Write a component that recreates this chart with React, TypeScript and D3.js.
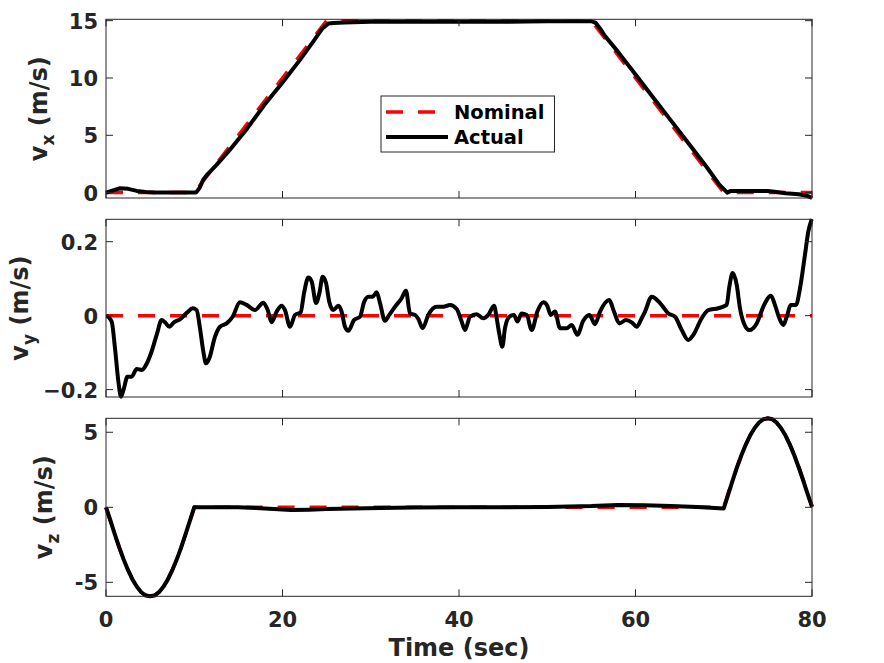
import React from 'react';
import * as d3 from 'd3';

const W = 884;
const H = 663;
const FONT = "'DejaVu Sans', 'Liberation Sans', sans-serif";
const AXIS = '#262626';

// shared time axis
const timeTicks = [0, 20, 40, 60, 80];

// v_x (m/s)
const vxNomT = [0, 10, 25, 55, 70, 80];
const vxNom = [0, 0, 15, 15, 0, 0];
const vxActT = [0, 0.8, 1.6, 2.5, 3.5, 4.5, 5.5, 10.2, 10.6, 11.0, 11.5, 12.5, 14, 16, 18, 20, 22, 23.5, 24.5, 25.2, 25.8, 27, 30, 35, 40, 45, 50, 55, 55.5, 56, 56.5, 58, 60, 62, 64, 66, 68, 69.5, 70.4, 70.8, 72, 75, 76, 77, 78.5, 79.5, 80];
const vxAct = [0, 0.2, 0.38, 0.33, 0.15, 0.05, 0, 0, 0.4, 1.1, 1.6, 2.4, 3.7, 5.6, 7.7, 9.6, 11.6, 13.2, 14.3, 14.75, 14.8, 14.85, 14.9, 14.9, 14.9, 14.9, 14.95, 14.95, 14.8, 14.3, 13.7, 12.3, 10.3, 8.3, 6.3, 4.3, 2.3, 0.7, 0.0, 0.15, 0.15, 0.15, 0.05, -0.05, -0.15, -0.3, -0.45];
const vxTicks = [0, 5, 10, 15];

// v_y (m/s)
const vyNomT = [0, 80];
const vyNom = [0, 0];
const vyActT = [0.08, 0.64, 1.02, 1.4, 1.7, 2.04, 2.42, 2.91, 3.48, 4.04, 4.42, 5.17, 5.74, 6.31, 6.69, 7.18, 7.7, 8.39, 9.22, 9.82, 10.27, 10.65, 11.03, 11.33, 11.71, 12.35, 12.92, 13.67, 14.35, 15.18, 15.94, 16.88, 17.83, 18.32, 18.77, 19.34, 19.9, 20.28, 20.85, 21.42, 22.06, 22.44, 22.93, 23.31, 23.8, 24.18, 24.55, 24.93, 25.31, 25.76, 26.33, 26.7, 27.08, 27.46, 28.1, 28.78, 29.24, 29.73, 30.22, 30.67, 31.05, 31.61, 32.1, 32.75, 33.5, 33.99, 34.45, 35.01, 35.39, 35.88, 36.52, 37.47, 38.22, 38.98, 39.74, 40.3, 40.68, 41.25, 42.0, 42.75, 43.32, 43.97, 44.27, 44.57, 44.91, 45.21, 45.7, 46.23, 46.61, 47.1, 47.67, 48.24, 48.88, 49.56, 50.0, 50.39, 50.88, 51.44, 52.2, 52.77, 53.41, 54.08, 54.77, 55.41, 55.98, 57.03, 57.56, 58.17, 58.92, 59.57, 60.13, 60.7, 61.08, 61.83, 62.78, 63.72, 64.48, 65.24, 65.98, 66.55, 67.5, 68.25, 69.38, 70.33, 70.63, 71.01, 71.47, 71.84, 72.29, 72.9, 73.73, 74.48, 75.35, 75.8, 76.3, 76.75, 77.2, 77.58, 78.19, 78.64, 79.2, 79.58, 79.97];
const vyAct = [0, -0.016, -0.088, -0.178, -0.219, -0.196, -0.165, -0.165, -0.144, -0.147, -0.138, -0.097, -0.052, -0.012, -0.018, -0.03, -0.018, -0.01, 0.009, 0.02, 0.015, -0.034, -0.097, -0.129, -0.115, -0.057, -0.03, -0.021, -0.003, 0.036, 0.029, 0.015, 0.035, 0.015, -0.018, 0.011, 0.027, 0.015, -0.03, 0.002, 0.009, 0.061, 0.103, 0.092, 0.034, 0.061, 0.105, 0.088, 0.036, 0.015, 0.027, 0.011, -0.03, -0.041, -0.012, -0.003, 0.036, 0.051, 0.051, 0.063, 0.034, -0.014, 0.002, 0.024, 0.047, 0.067, 0.006, 0.002, -0.009, -0.034, 0.002, 0.024, 0.024, 0.029, 0.018, -0.016, -0.039, -0.003, 0.004, -0.007, 0.002, 0.027, -0.007, -0.05, -0.084, -0.034, -0.003, 0.002, -0.016, 0.006, 0.002, -0.039, 0.011, 0.036, 0.027, 0.002, 0.011, -0.034, -0.034, -0.025, -0.052, -0.014, 0.002, -0.023, 0.011, 0.042, 0.011, -0.021, -0.012, -0.018, -0.03, -0.007, 0.011, 0.051, 0.034, 0.006, -0.003, -0.039, -0.066, -0.052, -0.007, 0.015, 0.02, 0.029, 0.078, 0.115, 0.083, 0.02, -0.021, -0.039, -0.021, 0.024, 0.054, 0.029, -0.007, -0.025, 0.002, 0.029, 0.029, 0.074, 0.164, 0.227, 0.261];
const vyTicks = [-0.2, 0, 0.2];

// v_z (m/s)
const vzNomT = [0, 0.5, 1, 1.5, 2, 2.5, 3, 3.5, 4, 4.5, 5, 5.5, 6, 6.5, 7, 7.5, 8, 8.5, 9, 9.5, 10, 70, 70.5, 71, 71.5, 72, 72.5, 73, 73.5, 74, 74.5, 75, 75.5, 76, 76.5, 77, 77.5, 78, 78.5, 79, 79.5, 80];
const vzNom = [0, -0.93, -1.83, -2.69, -3.49, -4.19, -4.8, -5.28, -5.64, -5.86, -5.93, -5.86, -5.64, -5.28, -4.8, -4.19, -3.49, -2.69, -1.83, -0.93, 0, 0, 0.93, 1.83, 2.69, 3.49, 4.19, 4.8, 5.28, 5.64, 5.86, 5.93, 5.86, 5.64, 5.28, 4.8, 4.19, 3.49, 2.69, 1.83, 0.93, 0];
const vzActT = [0, 0.5, 1, 1.5, 2, 2.5, 3, 3.5, 4, 4.5, 5, 5.5, 6, 6.5, 7, 7.5, 8, 8.5, 9, 9.5, 10, 15, 17, 19, 21, 23, 25, 28, 31, 35, 40, 45, 50, 55, 58, 61, 64, 67, 70, 70.5, 71, 71.5, 72, 72.5, 73, 73.5, 74, 74.5, 75, 75.5, 76, 76.5, 77, 77.5, 78, 78.5, 79, 79.5, 80];
const vzAct = [0, -0.88, -1.8, -2.67, -3.48, -4.19, -4.81, -5.3, -5.66, -5.88, -5.93, -5.88, -5.66, -5.3, -4.82, -4.21, -3.5, -2.7, -1.82, -0.9, 0, 0, -0.05, -0.12, -0.18, -0.16, -0.12, -0.08, -0.05, -0.02, 0, 0, 0.02, 0.08, 0.16, 0.14, 0.08, 0.02, -0.08, 0.85, 1.78, 2.66, 3.47, 4.18, 4.8, 5.28, 5.65, 5.87, 5.93, 5.87, 5.64, 5.27, 4.78, 4.16, 3.45, 2.65, 1.8, 0.9, 0.05];
const vzTicks = [-5, 0, 5];

const x = d3.scaleLinear().domain([0, 80]).range([106, 812]);

type Panel = {
  sub: string;
  y: d3.ScaleLinear<number, number>;
  ticks: number[];
  fmt: (v: number) => string;
  labelX: number;
  nomT: number[];
  nom: number[];
  actT: number[];
  act: number[];
  smooth: boolean;
};

const fmtInt = (v: number) => String(v);
const fmtDec = (v: number) => (v === 0 ? '0' : d3.format('.1f')(v));

const panels: Panel[] = [
  { sub: 'x', y: d3.scaleLinear().domain([-0.47, 15.12]).range([198, 19.3]), ticks: vxTicks, fmt: fmtInt, labelX: 47, nomT: vxNomT, nom: vxNom, actT: vxActT, act: vxAct, smooth: false },
  { sub: 'y', y: d3.scaleLinear().domain([-0.22, 0.2605]).range([397, 219.3]), ticks: vyTicks, fmt: fmtDec, labelX: 28, nomT: vyNomT, nom: vyNom, actT: vyActT, act: vyAct, smooth: true },
  { sub: 'z', y: d3.scaleLinear().domain([-5.93, 5.93]).range([596.3, 418.3]), ticks: vzTicks, fmt: fmtInt, labelX: 52, nomT: vzNomT, nom: vzNom, actT: vzActT, act: vzAct, smooth: false },
];

const DASH = '17 15';
const LW_NOM = 3.5;
const LW_ACT = 4;
const TICK = 7;

function linePath(p: Panel, ts: number[], vs: number[], smooth = false) {
  const gen = d3
    .line<number>()
    .x((_, i) => x(ts[i]))
    .y((v) => p.y(v))
    .curve(smooth ? d3.curveMonotoneX : d3.curveLinear);
  return gen(vs) || '';
}

function Axes({ p, showX }: { p: Panel; showX: boolean }) {
  const [yb, yt] = p.y.range();
  const [xl, xr] = x.range();
  const cy = (yb + yt) / 2;
  return (
    <g>
      <rect x={xl} y={yt} width={xr - xl} height={yb - yt} fill="#fff" />
      {/* series: nominal under actual */}
      <path d={linePath(p, p.nomT, p.nom)} fill="none" stroke="#ff0000" strokeWidth={LW_NOM} strokeDasharray={DASH} />
      <path d={linePath(p, p.actT, p.act, p.smooth)} fill="none" stroke="#000" strokeWidth={LW_ACT} strokeLinejoin="round" />
      {/* box */}
      <rect x={xl} y={yt} width={xr - xl} height={yb - yt} fill="none" stroke={AXIS} strokeWidth={1} />
      {/* x ticks on top and bottom */}
      {timeTicks.map((t) => (
        <g key={'xt' + t}>
          <line x1={x(t)} x2={x(t)} y1={yb} y2={yb - TICK} stroke={AXIS} />
          <line x1={x(t)} x2={x(t)} y1={yt} y2={yt + TICK} stroke={AXIS} />
          {showX && (
            <text x={x(t)} y={yb + 30.5} textAnchor="middle" fontSize={21} fontWeight="bold" fill={AXIS}>
              {t}
            </text>
          )}
        </g>
      ))}
      {/* y ticks on left and right */}
      {p.ticks.map((v) => (
        <g key={'yt' + v}>
          <line x1={xl} x2={xl + TICK} y1={p.y(v)} y2={p.y(v)} stroke={AXIS} />
          <line x1={xr} x2={xr - TICK} y1={p.y(v)} y2={p.y(v)} stroke={AXIS} />
          <text x={xl - 8} y={p.y(v) + 8} textAnchor="end" fontSize={21} fontWeight="bold" fill={AXIS}>
            {p.fmt(v)}
          </text>
        </g>
      ))}
      <text transform={`translate(${p.labelX},${cy}) rotate(-90)`} textAnchor="middle" fontSize={24} fontWeight="bold" fill={AXIS}>
        v<tspan dy={7} fontSize={17}>{p.sub}</tspan>
        <tspan dy={-7}> (m/s)</tspan>
      </text>
    </g>
  );
}

function Legend() {
  const bx = 381;
  const by = 96;
  const rows = [
    { name: 'Nominal', color: '#ff0000', dash: DASH, w: LW_NOM, cy: 112 },
    { name: 'Actual', color: '#000', dash: undefined, w: LW_ACT, cy: 137 },
  ];
  return (
    <g>
      <rect x={bx} y={by} width={173.5} height={56} fill="#fff" stroke={AXIS} strokeWidth={1} />
      {rows.map((r) => (
        <g key={r.name}>
          <line x1={386} x2={448} y1={r.cy} y2={r.cy} stroke={r.color} strokeWidth={r.w} strokeDasharray={r.dash} />
          <text x={454} y={r.cy + 7.3} fontSize={19.5} fontWeight="bold" fill="#000">
            {r.name}
          </text>
        </g>
      ))}
    </g>
  );
}

export default function App() {
  return (
    <svg width={W} height={H} style={{ position: 'absolute', left: 0, top: 0, background: '#fff' }} fontFamily={FONT}>
      <rect width={W} height={H} fill="#fff" />
      {panels.map((p, i) => (
        <Axes key={p.sub} p={p} showX={i === panels.length - 1} />
      ))}
      <Legend />
      <text x={459} y={656} textAnchor="middle" fontSize={24} fontWeight="bold" fill={AXIS}>
        Time (sec)
      </text>
    </svg>
  );
}
